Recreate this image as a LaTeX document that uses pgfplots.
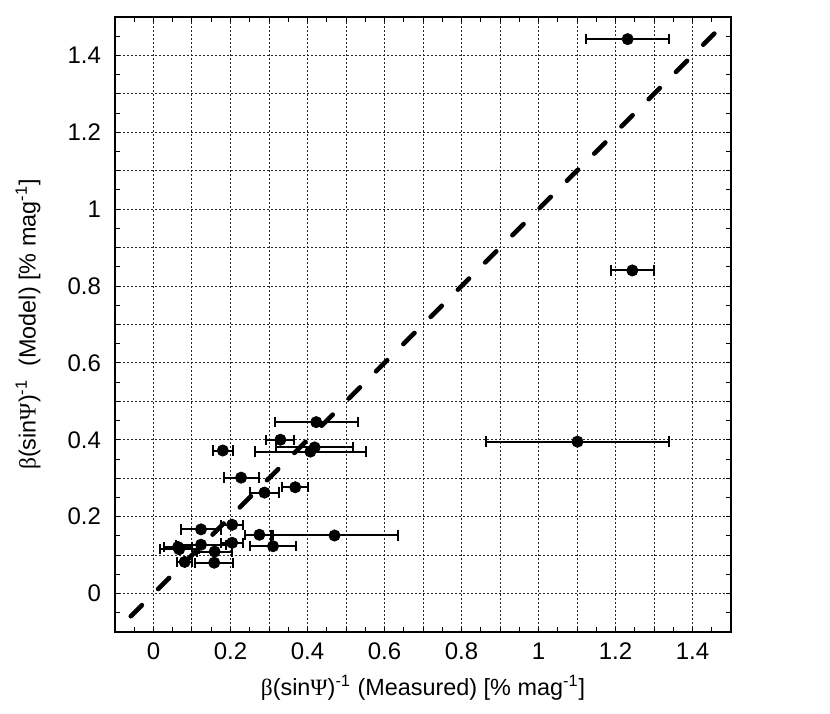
\documentclass[border=0pt]{standalone}
\usepackage{fontspec}
\setmainfont{Liberation Sans}
\newfontfamily\serif{Liberation Serif}
\usepackage{pgfplots}
\usepackage{pgfplotstable}
\pgfplotsset{compat=1.18}
\pgfplotstableread{
x y ex
1.2316 1.4424 0.1072
1.2437 0.8406 0.0556
1.1012 0.3952 0.2366
0.4227 0.4460 0.1072
0.3296 0.4002 0.0364
0.1800 0.3722 0.0263
0.4186 0.3802 0.1001
0.4075 0.3693 0.1436
0.2275 0.3015 0.0455
0.3681 0.2766 0.0344
0.2882 0.2627 0.0374
0.1234 0.1670 0.0516
0.2043 0.1790 0.0293
0.2750 0.1530 0.0364
0.4702 0.1511 0.1648
0.3104 0.1232 0.0586
0.2043 0.1321 0.0283
0.1234 0.1271 0.0657
0.0637 0.1212 0.0374
0.0667 0.1152 0.0506
0.1588 0.1092 0.0455
0.0809 0.0823 0.0202
0.1577 0.0803 0.0495
}\data
\begin{document}
\begin{tikzpicture}
\begin{axis}[
  scale only axis, width=308pt, height=307.5pt,
  xmin=-0.1, xmax=1.5, ymin=-0.1, ymax=1.5,
  xtick={-0.1,0,0.1,0.2,0.3,0.4,0.5,0.6,0.7,0.8,0.9,1,1.1,1.2,1.3,1.4,1.5},
  xticklabels={,0,,0.2,,0.4,,0.6,,0.8,,1,,1.2,,1.4,},
  ytick={-0.1,0,0.1,0.2,0.3,0.4,0.5,0.6,0.7,0.8,0.9,1,1.1,1.2,1.3,1.4,1.5},
  yticklabels={,0,,0.2,,0.4,,0.6,,0.8,,1,,1.2,,1.4,},
  minor tick num=1,
  grid=major,
  major grid style={dash pattern=on 1pt off 1pt, black!85, line width=0.5pt},
  tick align=inside, xtick pos=both, ytick pos=both,
  major tick length=2.5pt, minor tick length=2.5pt,
  tick style={black, line width=0.5pt},
  axis line style={line width=0.6pt},
  ticklabel style={font=\fontsize{12}{14}\selectfont},
  yticklabel style={xshift=-3.5pt},
  xticklabel style={yshift=-2pt},
  /pgf/number format/assume math mode=true,
  every axis x label/.style={at={(axis description cs:0.5,-0.091)}, anchor=center},
  every axis y label/.style={at={(axis description cs:-0.1412,0.5)}, rotate=90, anchor=center},
  label style={font=\fontsize{11.7}{13}\selectfont},
  xlabel={{\serif β}(sin{\serif Ψ})\textsuperscript{-1} (Measured) [\% mag\textsuperscript{-1}]},
  ylabel={{\serif β}(sin{\serif Ψ})\textsuperscript{-1}\ \ (Model) [\% mag\textsuperscript{-1}]},
]
\addplot[black, line width=2.3pt, line cap=round, dash pattern=on 7.85pt off 11.41pt, forget plot] coordinates {(-0.059,-0.059) (1.465,1.465)};
\addplot[only marks, mark=*, mark size=2.8pt, black,
  error bars/.cd, x dir=both, x explicit, error mark=|,
  error bar style={line width=1pt, black},
  error mark options={mark size=2.6pt, line width=1pt, black}]
  table[x=x, y=y, x error=ex] {\data};
\end{axis}
\path ([xshift=-57.5pt,yshift=-40.5pt]current axis.south west) rectangle ([xshift=49.5pt,yshift=8.5pt]current axis.north east);
\end{tikzpicture}
\end{document}
